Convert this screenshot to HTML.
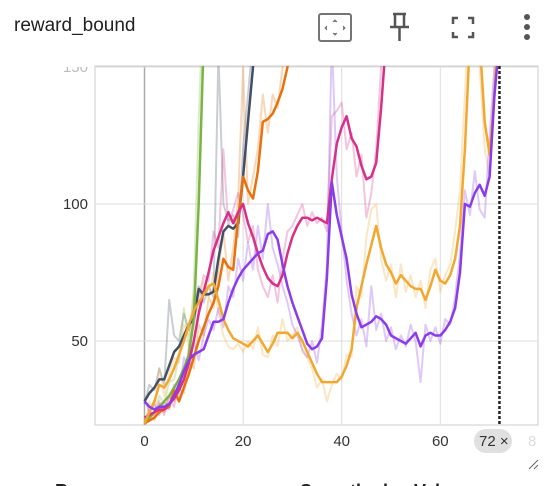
<!DOCTYPE html>
<html><head><meta charset="utf-8"><style>
body{margin:0;background:#fff;width:558px;height:486px;overflow:hidden;font-family:"Liberation Sans",sans-serif;position:relative}
</style></head><body>
<div style="position:absolute;left:14px;top:15px;font-size:19px;color:#212121">reward_bound</div>
<svg width="558" height="486" style="position:absolute;left:0;top:0">
<defs><clipPath id="pc"><rect x="95" y="66" width="443" height="359"/></clipPath>
<clipPath id="tc"><rect x="0" y="67" width="95" height="30"/></clipPath></defs>
<g fill="none" stroke="#757575" stroke-width="2">
<rect x="319" y="14" width="32" height="27" rx="2"/>
<path d="M333 22l2-2 2 2M333 33l2 2 2-2M327 26l-2 2 2 2M343 26l2 2-2 2" fill="#888" stroke-width="1"/></g>
<g stroke="#555" stroke-width="2.5" fill="none">
<path d="M393 14h13M395 14v12M404 14v12M390 27h19M399.5 27v14"/></g>
<g stroke="#555" stroke-width="2.5" fill="none">
<path d="M453 24v-6h5M468 18h5v6M473 32v5h-5M458 37h-5v-5"/></g>
<g fill="#555">
<circle cx="527" cy="17" r="3"/><circle cx="527" cy="27" r="3"/><circle cx="527" cy="37" r="3"/></g>
<g id="grid"></g>
<g id="lines" clip-path="url(#pc)"></g>
<g id="axes"></g>
<rect x="474" y="429" width="38" height="24" rx="12" fill="#e0e0e0"/>
<text x="479" y="446" font-size="15" fill="#333">72 ×</text>
<text x="528" y="446" font-size="15" fill="#ddd">8</text>
<path d="M529 469l9-9M534 469l4-4" stroke="#666" stroke-width="1"/>
<text x="55" y="497" font-size="18" font-weight="bold" fill="#222">Run</text>
<text x="300" y="497" font-size="18" font-weight="bold" fill="#222">Smoothed</text>
<text x="414" y="497" font-size="18" font-weight="bold" fill="#222">Value</text>
</svg>
<script>
const xTicks=[0,20,40,60];
const yTicks=[50,100,150];
const purple=[28,26,25,26,26,27,30,34,39,43,45,46,47,52,57,57,58,64,69,73,76,78,80,82,83,89,90,87,78,70,64,59,54,49,47,48,51,73,108,96,88,80,67,60,55,56,57,59,58,56,52,51,50,49,51,53,48,52,53,52,52,54,57,62,75,100,99,104,107,103,110,140,160];
const purpleRaw=[29,24,27,23,28,25,34,30,44,40,50,43,52,58,54,62,55,70,66,80,72,86,76,92,80,100,84,78,70,64,56,52,47,44,50,42,56,78,160,110,90,72,60,52,58,48,70,54,60,50,55,47,52,48,56,50,35,56,50,55,49,58,56,66,82,105,96,112,98,95,125,150,170];
const yellow=[20,24,28,34,33,36,40,45,50,56,61,64,67,70,71,65,58,54,51,50,49,48,50,52,49,46,49,53,53,53,51,53,50,46,42,38,35,35,35,35,37,41,47,62,70,78,85,92,84,78,75,71,74,72,70,69,69,65,70,76,72,71,74,80,92,120,160,170,160,130,118,140,170];
const yellowRaw=[18,28,24,40,30,38,44,42,56,52,66,60,72,66,75,60,52,48,47,49,46,50,47,55,45,44,52,48,58,50,52,55,46,44,40,33,36,28,34,38,36,45,44,70,66,88,98,100,80,72,78,66,78,68,74,66,72,62,76,80,68,74,78,90,105,140,175,180,150,120,110,150,180];
const pink=[22,23,24,25,25,27,29,32,36,42,50,60,68,75,83,88,93,97,93,97,100,93,88,82,77,73,71,70,74,82,88,92,95,95,94,95,94,93,109,122,128,132,124,121,114,109,110,115,135,160];
const pinkRaw=[20,25,22,28,23,30,26,36,34,48,56,66,74,72,90,84,120,92,98,104,96,86,92,76,70,66,74,64,80,90,92,96,100,92,97,93,95,90,132,134,137,120,126,110,118,95,104,120,150,170];
const orange=[20,21,22,24,25,26,32,28,33,38,44,50,55,60,64,70,80,77,76,95,110,105,102,112,130,131,133,137,142,150,165];
const orangeRaw=[19,23,21,27,24,30,28,33,31,42,40,56,52,66,62,76,90,72,84,102,150,100,110,120,140,126,140,135,150,160,175];
const slate=[28,31,33,36,36,41,46,48,52,56,58,69,67,67,68,80,90,92,91,93,110,130,150,170];
const slateRaw=[27,34,32,40,34,65,52,50,60,54,62,70,64,70,66,155,100,94,96,88,120,140,160,180];
const green=[20,22,24,26,28,30,33,36,40,45,58,100,160,200];
const greenRaw=[21,24,23,30,27,35,36,44,62,48,70,130,180,210];
const X=v=>144.5+v*4.93, Y=v=>204-(v-100)*2.74;
const ns="http://www.w3.org/2000/svg";
const grid=document.getElementById('grid'),lines=document.getElementById('lines'),axes=document.getElementById('axes');
let box=document.createElementNS(ns,'rect');


box.setAttribute('x',95);box.setAttribute('y',66);box.setAttribute('width',443);box.setAttribute('height',359);
box.setAttribute('fill','none');box.setAttribute('stroke','#ccc');
grid.appendChild(box);
xTicks.forEach(t=>{
 let l=document.createElementNS(ns,'line');
 
 
 l.setAttribute('x1',X(t));l.setAttribute('x2',X(t));l.setAttribute('y1',66);l.setAttribute('y2',425);
 l.setAttribute('stroke',t===0?'#aaa':'#ddd');l.setAttribute('stroke-width',t===0?1.5:1);
 grid.appendChild(l);
 let tx=document.createElementNS(ns,'text');
 
 
 tx.setAttribute('x',X(t));tx.setAttribute('y',446);tx.setAttribute('font-size','15');tx.setAttribute('fill','#333');tx.setAttribute('text-anchor','middle');
 tx.textContent=t;axes.appendChild(tx);
});
yTicks.forEach(t=>{
 let l=document.createElementNS(ns,'line');
 
 
 l.setAttribute('x1',95);l.setAttribute('x2',538);l.setAttribute('y1',Y(t));l.setAttribute('y2',Y(t));
 l.setAttribute('stroke','#ddd');grid.appendChild(l);
 let tx=document.createElementNS(ns,'text');
 
 
 tx.setAttribute('x',88);tx.setAttribute('y',Y(t)+5);tx.setAttribute('font-size','15');tx.setAttribute('fill',t===150?'#bbb':'#333');tx.setAttribute('text-anchor','end');
 tx.textContent=t;
 if(t===150){tx.setAttribute('clip-path','url(#tc)');}
 axes.appendChild(tx);
});
function line(arr,color,w,op,name){
 let p=document.createElementNS(ns,'path');
 
 
 p.setAttribute('d',arr.map((v,i)=>(i?'L':'M')+X(i).toFixed(1)+' '+Y(v).toFixed(1)).join(''));
 p.setAttribute('fill','none');p.setAttribute('stroke',color);p.setAttribute('stroke-width',w);p.setAttribute('opacity',op);
 p.setAttribute('stroke-linejoin','round');
 lines.appendChild(p);
}
const S=[[slate,slateRaw,'#425066','slate'],[green,greenRaw,'#7cb342','green'],[orange,orangeRaw,'#e8710a','orange'],[pink,pinkRaw,'#d63089','pink'],[yellow,yellowRaw,'#f2a730','yellow'],[purple,purpleRaw,'#8a3ce8','purple']];
S.forEach(s=>line(s[1],s[2],2,0.28,'series-'+s[3]+'-raw'));
S.forEach(s=>line(s[0],s[2],2.5,1,'series-'+s[3]));
let d=document.createElementNS(ns,'line');


d.setAttribute('x1',X(72));d.setAttribute('x2',X(72));d.setAttribute('y1',66);d.setAttribute('y2',425);
d.setAttribute('stroke','#222');d.setAttribute('stroke-width',2.5);d.setAttribute('stroke-dasharray','3 2');
axes.appendChild(d);
</script>
</body></html>
